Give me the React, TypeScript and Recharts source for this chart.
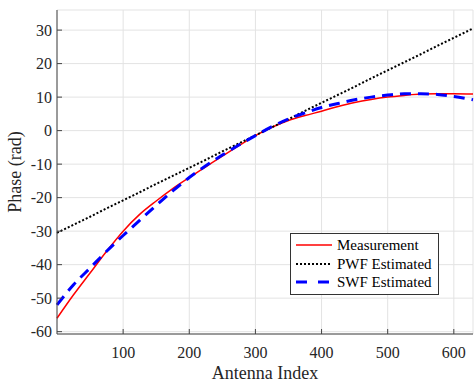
import { LineChart, Line, XAxis, YAxis, CartesianGrid, Legend } from 'recharts';

// antenna index samples
const antennaIndex = [0, 25, 50, 75, 100, 125, 150, 175, 200, 225, 250, 275, 300, 325, 350, 375, 400, 425, 450, 475, 500, 525, 550, 575, 600, 629];

const measurement = [-56, -49, -42.5, -36, -30, -25, -21, -17.3, -14, -10.8, -7.6, -4.5, -1.5, 1, 3, 4.5, 5.8, 7.2, 8.4, 9.3, 10, 10.5, 10.9, 11, 11, 10.9];
const pwfEstimated = [-30.5, -28.1, -25.7, -23.2, -20.8, -18.4, -15.9, -13.5, -11.1, -8.7, -6.2, -3.8, -1.4, 1.0, 3.4, 5.9, 8.3, 10.7, 13.1, 15.6, 18.0, 20.4, 22.8, 25.3, 27.7, 30.5];
const swfEstimated = [-52, -46, -41, -36, -31.3, -26.8, -22.3, -18, -14, -10.5, -7.3, -4.3, -1.5, 1.2, 3.5, 5.3, 6.9, 8.1, 9.2, 10, 10.6, 11, 11, 10.8, 10.2, 9.2];

const xTicks = [100, 200, 300, 400, 500, 600];
const yTicks = [-60, -50, -40, -30, -20, -10, 0, 10, 20, 30];

const data = antennaIndex.map((x, i) => ({
  x,
  meas: measurement[i],
  pwf: pwfEstimated[i],
  swf: swfEstimated[i],
}));

const FONT = '"Liberation Serif", "Times New Roman", serif';
const AXIS = '#444';

const legendItems = [
  { name: 'Measurement', color: '#ff0000', width: 1.5, dash: undefined },
  { name: 'PWF Estimated', color: '#000000', width: 2, dash: '2 2' },
  { name: 'SWF Estimated', color: '#0000ff', width: 3, dash: '11 11' },
];

function LegendBox() {
  return (
    <div
      style={{
        border: '1px solid #333',
        background: '#fff',
        padding: '2px 6px 2px 4px',
        fontFamily: FONT,
        fontSize: 15,
        color: '#000',
        lineHeight: '18.5px',
      }}
    >
      {legendItems.map((it) => (
        <div key={it.name} style={{ display: 'flex', alignItems: 'center' }}>
          <svg width={38} height={10} style={{ marginRight: 4 }}>
            <line x1={1} y1={5} x2={37} y2={5} stroke={it.color} strokeWidth={it.width} strokeDasharray={it.dash} />
          </svg>
          <span>{it.name}</span>
        </div>
      ))}
    </div>
  );
}

export default function App() {
  return (
    <div style={{ position: 'absolute', left: 0, top: 0, background: '#fff' }}>
      <LineChart width={474} height={383} data={data} margin={{ top: 10, right: 1, bottom: 0, left: 0 }}>
        <CartesianGrid stroke="#e3e3e3" strokeWidth={1} />
        <XAxis
          dataKey="x"
          type="number"
          domain={[0, 629]}
          ticks={xTicks}
          height={49}
          tickSize={-5}
          tickMargin={18}
          stroke={AXIS}
          tick={{ fill: '#262626', fontSize: 16, fontFamily: FONT }}
          label={{ value: 'Antenna Index', position: 'insideBottom', offset: 4, fill: '#262626', fontSize: 18, fontFamily: FONT }}
        />
        <XAxis
          xAxisId="top"
          dataKey="x"
          type="number"
          orientation="top"
          domain={[0, 629]}
          ticks={xTicks}
          height={0}
          tickSize={-5}
          tick={false}
          stroke={AXIS}
        />
        <YAxis
          type="number"
          domain={[-60.7, 36]}
          ticks={yTicks}
          width={57}
          tickSize={-5}
          tickMargin={10}
          stroke={AXIS}
          tick={{ fill: '#262626', fontSize: 16, fontFamily: FONT }}
          label={{
            value: 'Phase (rad)',
            angle: -90,
            position: 'insideLeft',
            offset: 15,
            fill: '#262626',
            fontSize: 18,
            fontFamily: FONT,
            style: { textAnchor: 'middle' },
          }}
        />
        <YAxis
          yAxisId="right"
          type="number"
          orientation="right"
          domain={[-60.7, 36]}
          ticks={yTicks}
          width={0}
          tickSize={-5}
          tick={false}
          stroke={AXIS}
        />
        <Line type="monotone" dataKey="meas" name="Measurement" stroke="#ff0000" strokeWidth={1.5} dot={false} isAnimationActive={false} />
        <Line type="linear" dataKey="pwf" name="PWF Estimated" stroke="#000000" strokeWidth={2} strokeDasharray="2 2" dot={false} isAnimationActive={false} />
        <Line type="monotone" dataKey="swf" name="SWF Estimated" stroke="#0000ff" strokeWidth={3} strokeDasharray="11 7" dot={false} isAnimationActive={false} />
        <Legend
          layout="horizontal"
          verticalAlign="middle"
          align="center"
          content={() => <LegendBox />}
          wrapperStyle={{ position: 'absolute', left: 290, top: 233, width: 'auto', height: 'auto' }}
        />
      </LineChart>
    </div>
  );
}
